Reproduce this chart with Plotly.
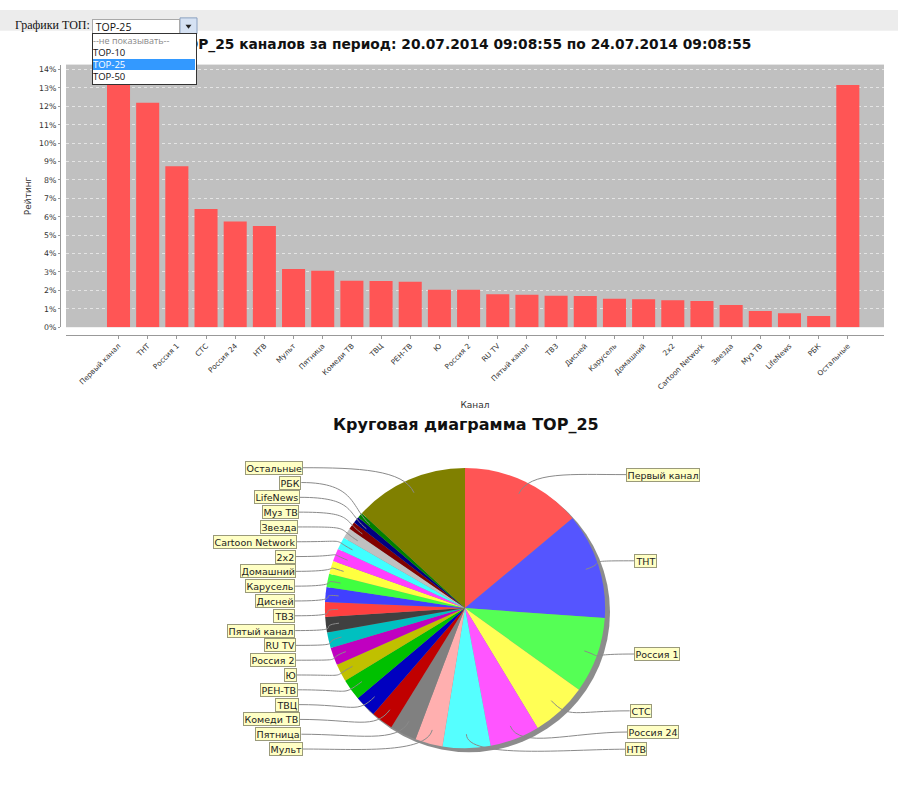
import math
import plotly.graph_objects as go

W, H = 898, 789

# ---------------- data ----------------
channels = ["Первый канал", "ТНТ", "Россия 1", "СТС", "Россия 24", "НТВ", "Мульт", "Пятница",
            "Комеди ТВ", "ТВЦ", "РЕН-ТВ", "Ю", "Россия 2", "RU TV", "Пятый канал", "ТВ3",
            "Дисней", "Карусель", "Домашний", "2x2", "Cartoon Network", "Звезда", "Муз ТВ",
            "LifeNews", "РБК", "Остальные"]
ratings = [13.9, 12.2, 8.75, 6.43, 5.74, 5.5, 3.16, 3.07, 2.53, 2.51, 2.47, 2.04, 2.04,
           1.79, 1.77, 1.71, 1.70, 1.55, 1.52, 1.46, 1.43, 1.21, 0.88, 0.76, 0.61, 13.16]
bar_title = "TOP_25 каналов за период: 20.07.2014 09:08:55 по 24.07.2014 09:08:55"
pie_title = "Круговая диаграмма TOP_25"
menu_label = "Графики ТОП:"
menu_options = ["--не показывать--", "TOP-10", "TOP-25", "TOP-50"]
menu_selected = "TOP-25"

# ---------------- styles ----------------
pie_colors = ["#ff5555", "#5555ff", "#55ff55", "#ffff55", "#ff55ff", "#55ffff", "#ffafaf",
              "#808080", "#c00000", "#0000c0", "#00c000", "#c0c000", "#c000c0", "#00c0c0",
              "#404040", "#ff4040", "#4040ff", "#40ff40", "#ffff40", "#ff40ff", "#40ffff",
              "#c0c0c0", "#800000", "#000080", "#008000", "#808000"]


def px(x):
    return x / W


def py(y):
    return 1 - y / H


fig = go.Figure()

# ---------------- bar chart ----------------
fig.add_trace(go.Bar(x=channels, y=ratings, marker=dict(color="#ff5555", line=dict(width=0)),
                     width=0.79, showlegend=False, xaxis="x", yaxis="y"))

fig.update_layout(
    xaxis=dict(domain=[px(66), px(884)], anchor="free", position=py(337),
               type="category", range=[-1.8, 26.24], tickangle=-45,
               tickfont=dict(family="DejaVu Sans", size=7.3, color="#333"),
               showline=True, linecolor="#999", ticks="outside", ticklen=3, tickcolor="#999",
               showgrid=False, fixedrange=True,
               title=dict(text="Канал", font=dict(family="DejaVu Sans", size=9, color="#333"),
                          standoff=11)),
    yaxis=dict(domain=[py(329.3), py(65)], anchor="free", position=px(60),
               range=[0, 14.27], dtick=1, ticksuffix="%",
               tickfont=dict(family="DejaVu Sans", size=7.8, color="#333"),
               showline=True, linecolor="#999", ticks="outside", ticklen=2, tickcolor="#999",
               showgrid=True, gridcolor="#e4e4e4", griddash="dot", gridwidth=0.7,
               zeroline=False, fixedrange=True,
               title=dict(text="Рейтинг", font=dict(family="DejaVu Sans", size=9, color="#333"),
                          standoff=4)),
)

# ---------------- pie chart ----------------
cx, cy, R = 465, 612, 141
fig.add_trace(go.Pie(labels=channels, values=ratings, sort=False, direction="clockwise",
                     rotation=0, textinfo="none", showlegend=False,
                     marker=dict(colors=pie_colors, line=dict(width=0)),
                     domain=dict(x=[px(cx - R), px(cx + R)], y=[py(cy + R), py(cy - R)])))

shapes = []
annotations = []

# header band
shapes.append(dict(type="rect", xref="paper", yref="paper", x0=0, x1=1, y0=py(31), y1=py(10),
                   fillcolor="#ececec", line=dict(width=0), layer="below"))
# pie shadow
shapes.append(dict(type="circle", xref="paper", yref="paper",
                   x0=px(cx - R + 4), x1=px(cx + R + 4), y0=py(cy + R + 4), y1=py(cy - R + 4),
                   fillcolor="#8c8c8c", line=dict(width=0), layer="below"))

# label layout (computed from the pie's slice angles)
total = sum(ratings)
angles = []
cum = 0.0
for v in ratings:
    angles.append(2 * math.pi * (cum + v / 2) / total)
    cum += v

right_idx = [i for i, a in enumerate(angles) if a < math.pi]
left_idx = [i for i, a in enumerate(angles) if a >= math.pi]

label_pos = {}
ys = [cy - 3 - 145 * math.cos(angles[i]) for i in right_idx]
for k in range(len(ys) - 2, -1, -1):
    if ys[k + 1] - ys[k] < 17.3:
        ys[k] = ys[k + 1] - 17.3
for i, y in zip(right_idx, ys):
    x = cx + 170 - 10 * ((y - cy) / 142) ** 2
    label_pos[i] = (x, y, "left")
for k, i in enumerate(reversed(left_idx)):
    y = 470.7 + 14.9 * k
    x = cx - 170 + 8 * ((y - cy) / 142) ** 2
    label_pos[i] = (x, y, "right")

for i, name in enumerate(channels):
    a = angles[i]
    lx, ly, side = label_pos[i]
    ax_, ay_ = cx + 0.9 * R * math.sin(a), cy - 0.9 * R * math.cos(a)
    c1x, c1y = cx + 1.08 * R * math.sin(a), cy - 1.08 * R * math.cos(a)
    c2x = lx - 55 if side == "left" else lx + 55
    path = (f"M {px(ax_)},{py(ay_)} C {px(c1x)},{py(c1y)} {px(c2x)},{py(ly)} "
            f"{px(lx)},{py(ly)}")
    shapes.append(dict(type="path", xref="paper", yref="paper", path=path,
                       line=dict(color="#8a8a8a", width=1)))
    annotations.append(dict(text=name, x=px(lx), y=py(ly), xref="paper", yref="paper",
                            xanchor=side, yanchor="middle", showarrow=False,
                            bgcolor="#ffffc4", bordercolor="#9a9a7a", borderwidth=1,
                            borderpad=0.5, font=dict(family="DejaVu Sans", size=9.5, color="#222")))

# titles
annotations.insert(0, dict(text=f"<b>{bar_title}</b>", x=px(464), y=py(45), xref="paper",
                           yref="paper", xanchor="center", yanchor="middle", showarrow=False,
                           font=dict(family="DejaVu Sans", size=13.8, color="#111")))
annotations.insert(1, dict(text=f"<b>{pie_title}</b>", x=px(466), y=py(427), xref="paper",
                           yref="paper", xanchor="center", yanchor="middle", showarrow=False,
                           font=dict(family="DejaVu Sans", size=16, color="#111")))

# dropdown (page widget above the chart)
annotations.append(dict(text=menu_label, x=px(13), y=py(25.5), xref="paper", yref="paper",
                        xanchor="left", yanchor="middle", showarrow=False,
                        font=dict(family="Liberation Serif", size=12, color="#111")))
annotations.append(dict(text="\u00a0" + menu_selected, x=px(92), y=py(19), xref="paper",
                        yref="paper", xanchor="left", yanchor="top", showarrow=False,
                        align="left", width=86, height=13, bgcolor="white",
                        bordercolor="#a9a9a9", borderwidth=1, borderpad=0,
                        font=dict(family="Open Sans", size=10.5, color="#111")))
shapes.append(dict(type="rect", xref="paper", yref="paper", x0=px(180), x1=px(197),
                   y0=py(34), y1=py(18), fillcolor="#d6e2f3", line=dict(color="#8aa0c0", width=1)))
shapes.append(dict(type="path", xref="paper", yref="paper",
                   path=f"M {px(185.5)},{py(25)} L {px(191.5)},{py(25)} L {px(188.5)},{py(29)} Z",
                   fillcolor="#222", line=dict(width=0)))
annotations.append(dict(text=" ", x=px(92), y=py(33), xref="paper", yref="paper",
                        xanchor="left", yanchor="top", showarrow=False,
                        width=103, height=50, bgcolor="white", bordercolor="#333",
                        borderwidth=1, borderpad=0))
for k, opt in enumerate(menu_options):
    sel = opt == menu_selected
    annotations.append(dict(text=opt, x=px(93), y=py(35.5 + 12 * k), xref="paper", yref="paper",
                            xanchor="left", yanchor="top", showarrow=False, align="left",
                            width=102, height=11, borderpad=0, borderwidth=0,
                            bgcolor="#3399ff" if sel else "rgba(0,0,0,0)",
                            font=dict(family="Open Sans", size=9.5 if k else 9,
                                      color="white" if sel else ("#888" if k == 0 else "#111"))))

fig.update_layout(
    width=W, height=H, margin=dict(l=0, r=0, t=0, b=0),
    paper_bgcolor="white", plot_bgcolor="#c0c0c0",
    shapes=shapes, annotations=annotations,
    font=dict(family="DejaVu Sans"),
)

fig.write_html("out.html")
